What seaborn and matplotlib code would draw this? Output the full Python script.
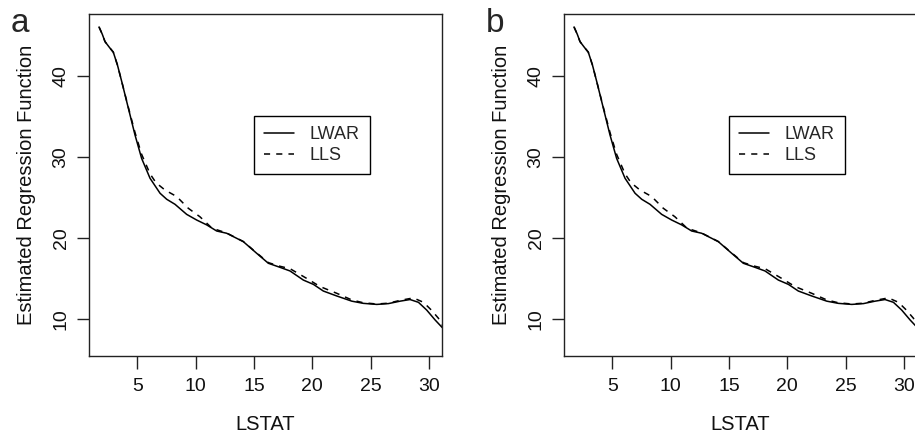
import matplotlib
matplotlib.use('Agg')
import matplotlib.pyplot as plt
import seaborn as sns
import pandas as pd

# LWAR kreivė (nuskaityta iš paveikslėlio)
lwar_x = [1.72, 2.0, 2.23, 2.6, 2.94, 3.3, 3.66, 4.23, 4.80, 5.37, 6.09, 6.95, 7.52, 8.23,
          9.23, 10.09, 10.95, 11.8, 12.66, 14.09, 15.23, 16.23, 17.23, 18.09, 19.23, 20.09,
          20.94, 22.09, 23.38, 24.37, 25.52, 26.52, 27.52, 28.37, 29.09, 29.8, 30.52, 31.14]
lwar_y = [46.0, 45.1, 44.2, 43.5, 42.9, 41.3, 39.3, 36.0, 32.7, 29.8, 27.35, 25.5, 24.76, 24.14,
          22.9, 22.2, 21.6, 20.85, 20.57, 19.53, 18.1, 16.87, 16.37, 15.92, 14.8, 14.27,
          13.45, 12.84, 12.2, 11.93, 11.8, 11.9, 12.2, 12.4, 12.06, 11.1, 9.88, 8.93]

# LLS kreivė
lls_x = [1.72, 2.0, 2.23, 2.6, 2.94, 3.3, 3.66, 4.23, 4.80, 5.37, 6.09, 6.6, 7.37, 8.37,
         9.37, 10.37, 11.4, 12.66, 14.09, 15.23, 16.23, 17.23, 18.09, 19.52, 20.66,
         22.09, 23.38, 24.37, 25.52, 26.52, 27.52, 28.66, 29.52, 30.2, 30.8, 31.14]
lls_y = [46.0, 45.1, 44.2, 43.5, 42.9, 41.3, 39.3, 36.1, 33.0, 30.3, 27.9, 26.8, 25.9, 25.1,
         23.65, 22.6, 21.2, 20.6, 19.55, 18.15, 16.95, 16.5, 16.2, 15.0, 14.0,
         13.17, 12.35, 12.0, 11.85, 11.95, 12.3, 12.6, 12.06, 11.1, 10.1, 9.2]

panel_labels = ['a', 'b']
x_ticks = [5, 10, 15, 20, 25, 30]
y_ticks = [10, 20, 30, 40]

df = pd.concat([
    pd.DataFrame({'LSTAT': lwar_x, 'value': lwar_y, 'method': 'LWAR'}),
    pd.DataFrame({'LSTAT': lls_x, 'value': lls_y, 'method': 'LLS'}),
])

sns.set_style('white')
plt.rcParams['font.family'] = ['Liberation Sans', 'DejaVu Sans']

fig = plt.figure(figsize=(9.15, 4.33), dpi=100)
lefts = [89 / 915, 564 / 915]
for left, lab in zip(lefts, panel_labels):
    ax = fig.add_axes([left, 77 / 433, 353 / 915, 342 / 433])
    sns.lineplot(data=df, x='LSTAT', y='value', style='method', hue='method',
                 palette=['black', 'black'], dashes={'LWAR': '', 'LLS': (4, 4)},
                 estimator=None, sort=False, linewidth=1.1, ax=ax)
    ax.set_xlim(0.86, 31.11)
    ax.set_ylim(5.44, 47.6)
    ax.set_xticks(x_ticks)
    ax.set_yticks(y_ticks)
    ax.tick_params(direction='out', length=9, width=1, color='#222222', labelsize=14,
                   pad=5, left=True, bottom=True, labelcolor='#111111')
    ax.tick_params(axis='x', pad=7)
    plt.setp(ax.get_yticklabels(), rotation=90, va='center')
    for s in ax.spines.values():
        s.set_color('#222222')
        s.set_linewidth(1)
        s.set_visible(True)
    ax.set_xlabel('LSTAT', fontsize=14.5, labelpad=14, color='#111111')
    ax.set_ylabel('Estimated Regression Function', fontsize=14.5, labelpad=12, color='#111111')
    leg = ax.legend(handles=ax.get_legend_handles_labels()[0],
                    labels=['LWAR', 'LLS'], loc='upper left',
                    bbox_to_anchor=(0.4666, 0.7018), borderaxespad=0, fancybox=False,
                    edgecolor='black', framealpha=1, fontsize=13, handlelength=1.7,
                    handletextpad=0.85, borderpad=0.55, labelspacing=0.25)
    leg.get_frame().set_linewidth(1)
    fig.text(left - 78 / 915, 1 - 24 / 433, lab, fontsize=24, ha='left', va='center')

fig.savefig('out.png', dpi=100)
